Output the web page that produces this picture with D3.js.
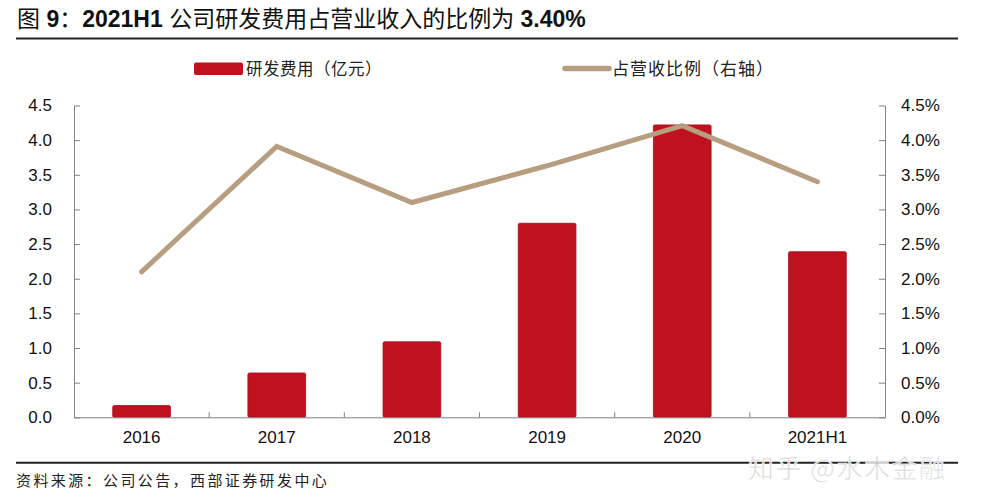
<!DOCTYPE html>
<html><head><meta charset="utf-8">
<script src="https://cdn.jsdelivr.net/npm/d3@7"></script>
<style>body{margin:0;background:#fff}svg{display:block}</style>
</head><body>
<svg id="c" width="983" height="500"></svg>
<script>
const categories = ["2016","2017","2018","2019","2020","2021H1"];
const rdExpense = [0.17, 0.64, 1.09, 2.80, 4.22, 2.39];
const rdRatio = [2.10, 3.91, 3.10, 3.63, 4.21, 3.40];
const leftTicks = [0,0.5,1,1.5,2,2.5,3,3.5,4,4.5];
const rightTicks = [0,0.5,1,1.5,2,2.5,3,3.5,4,4.5];

const svg = d3.select("#c");
const m={l:74,r:885,t:105.5,b:417.3};
const font="'Liberation Sans', Arial, sans-serif";
const cjk="'Noto Sans CJK SC', sans-serif";

const x = d3.scaleBand().domain(categories).range([m.l,m.r]).paddingInner(0).paddingOuter(0);
const yL = d3.scaleLinear().domain([0,4.5]).range([m.b,m.t]);
const yR = d3.scaleLinear().domain([0,4.5]).range([m.b,m.t]);

// title
const title = svg.append("text").attr("x",17).attr("y",27).attr("font-family",font+","+cjk)
  .attr("font-size",23).attr("fill","#111");
title.append("tspan").text("图 ");
title.append("tspan").attr("font-weight","bold").text("9");
title.append("tspan").text("：");
title.append("tspan").attr("font-weight","bold").text("2021H1");
title.append("tspan").text(" 公司研发费用占营业收入的比例为 ");
title.append("tspan").attr("font-weight","bold").text("3.40%");
svg.append("line").attr("x1",16).attr("x2",958).attr("y1",38.5).attr("y2",38.5).attr("stroke","#222").attr("stroke-width",2);

// legend
svg.append("rect").attr("x",194).attr("y",62.5).attr("width",49).attr("height",12.5).attr("rx",2).attr("fill","#c0111f");
svg.append("text").attr("x",246).attr("y",75).attr("font-family",cjk).attr("font-size",16.5).attr("letter-spacing",0.5).attr("fill","#222").text("研发费用（亿元）");
svg.append("line").attr("x1",565).attr("x2",609).attr("y1",68.5).attr("y2",68.5).attr("stroke","#b79e80").attr("stroke-width",5.5).attr("stroke-linecap","round");
svg.append("text").attr("x",612).attr("y",75).attr("font-family",cjk).attr("font-size",17).attr("letter-spacing",1).attr("fill","#222").text("占营收比例（右轴）");

const axisColor="#808080";
// left axis
const gL = svg.append("g").attr("transform",`translate(${m.l},0)`)
  .call(d3.axisLeft(yL).tickValues(leftTicks).tickFormat(d3.format(".1f")).tickSizeInner(-6).tickSizeOuter(0).tickPadding(22));
gL.select(".domain").attr("stroke",axisColor);
gL.selectAll(".tick line").attr("stroke",axisColor);
gL.selectAll("text").attr("font-family",font).attr("font-size",17).attr("fill","#111");

// right axis
const gR = svg.append("g").attr("transform",`translate(${m.r},0)`)
  .call(d3.axisRight(yR).tickValues(rightTicks).tickFormat(d=>d3.format(".1f")(d)+"%").tickSizeInner(-6).tickSizeOuter(0).tickPadding(16));
gR.select(".domain").attr("stroke",axisColor);
gR.selectAll(".tick line").attr("stroke",axisColor);
gR.selectAll("text").attr("font-family",font).attr("font-size",17).attr("fill","#111");

// bars
const bw = x.bandwidth()*0.427;
svg.append("g").selectAll("rect").data(categories).join("rect")
  .attr("x",d=>x(d)+x.bandwidth()/2-bw/2)
  .attr("y",(d,i)=>yL(rdExpense[i]))
  .attr("width",bw)
  .attr("height",(d,i)=>yL(0)-yL(rdExpense[i]))
  .attr("rx",1.5)
  .attr("fill","#c0111f").attr("stroke","#a50e1a").attr("stroke-width",0.8);

// x axis
const gX = svg.append("g").attr("transform",`translate(0,${m.b})`)
  .call(d3.axisBottom(x).tickSize(0).tickPadding(14));
gX.select(".domain").attr("stroke",axisColor);
gX.selectAll("text").attr("font-family",font).attr("font-size",17).attr("fill","#111");
svg.append("g").selectAll("line").data(categories.slice(1)).join("line")
  .attr("x1",d=>x(d)).attr("x2",d=>x(d)).attr("y1",m.b).attr("y2",m.b-5).attr("stroke",axisColor);

// line
const line = d3.line().x((d,i)=>x(categories[i])+x.bandwidth()/2).y(d=>yR(d));
svg.append("path").datum(rdRatio).attr("d",line).attr("fill","none")
  .attr("stroke","#b79e80").attr("stroke-width",5).attr("stroke-linejoin","miter").attr("stroke-linecap","round");

// bottom rule and source
svg.append("line").attr("x1",16).attr("x2",958).attr("y1",462.7).attr("y2",462.7).attr("stroke","#222").attr("stroke-width",2);
svg.append("text").attr("x",16).attr("y",486).attr("font-family",cjk).attr("font-size",15).attr("letter-spacing",2.4).attr("fill","#222").text("资料来源：公司公告，西部证券研发中心");
// watermark
svg.append("text").attr("x",748).attr("y",478).attr("font-family",cjk).attr("font-size",26).attr("fill","#d4d4d4").attr("fill-opacity",0.9)
  .attr("stroke","#fff").attr("stroke-width",0.6).attr("letter-spacing",1.5).text("知乎 @水木金融");
</script>
</body></html>
